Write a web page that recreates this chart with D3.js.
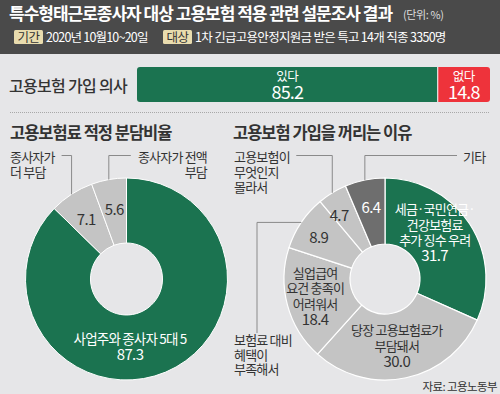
<!DOCTYPE html>
<html>
<head>
<meta charset="utf-8">
<script src="https://cdn.jsdelivr.net/npm/d3@7"></script>
<style>
  body { margin: 0; background: #e6e6e8; }
  svg { display: block; }
  text { font-family: "Noto Sans CJK KR", "Noto Sans", sans-serif; }
</style>
</head>
<body>
<div id="chart"></div>
<script>
// ---- data ----
var title = "특수형태근로종사자 대상 고용보험 적용 관련 설문조사 결과";
var unitText = "(단위: %)";
var periodTag = "기간";
var periodText = "2020년 10월10~20일";
var targetTag = "대상";
var targetText = "1차 긴급고용안정지원금 받은 특고 14개 직종 3350명";

var intentLabel = "고용보험 가입 의사";
var intentCats = ["있다", "없다"];
var intentVals = [85.2, 14.8];

var shareTitle = "고용보험료 적정 분담비율";
var shareCats = [["사업주와 종사자 5대 5"], ["종사자가", "더 부담"], ["종사자가 전액", "부담"]];
var shareVals = [87.3, 7.1, 5.6];

var reasonTitle = "고용보험 가입을 꺼리는 이유";
var reasonCats = [
    ["세금·국민연금·", "건강보험료", "추가 징수 우려"],
    ["당장 고용보험료가", "부담돼서"],
    ["실업급여", "요건 충족이", "어려워서"],
    ["보험료 대비", "혜택이", "부족해서"],
    ["고용보험이", "무엇인지", "몰라서"],
    ["기타"]
];
var reasonVals = [31.7, 30.0, 18.4, 8.9, 4.7, 6.4];
var sourceText = "자료: 고용노동부";

// ---- style ----
var W = 500, H = 394;
var GREEN = "#1b7350", RED = "#ee333b", GRAY = "#c4c4c4", DARK = "#6e6e6e";
var INK = "#333", LEAD = "#8a8a8a";

var svg = d3.select("#chart").append("svg").attr("width", W).attr("height", H);

svg.append("rect").attr("width", W).attr("height", H).attr("fill", "#e6e6e8");

// header
svg.append("rect").attr("width", W).attr("height", 54).attr("fill", "#4a4a4a");
svg.append("text").attr("x", 9).attr("y", 14).attr("dy", "0.36em")
    .attr("fill", "#fff").attr("font-size", 17).attr("font-weight", 700)
    .attr("letter-spacing", -1.0).text(title);
svg.append("text").attr("x", 403).attr("y", 15).attr("dy", "0.36em")
    .attr("fill", "#ddd").attr("font-size", 11).attr("letter-spacing", -0.4).text(unitText);

function tag(x, w, label) {
    svg.append("rect").attr("x", x).attr("y", 30).attr("width", w).attr("height", 14)
        .attr("rx", 1.5).attr("fill", "#e9dcae");
    svg.append("text").attr("x", x + w / 2).attr("y", 37).attr("dy", "0.36em")
        .attr("text-anchor", "middle").attr("fill", INK).attr("font-size", 12.5)
        .attr("letter-spacing", -0.6).text(label);
}
tag(14, 29, periodTag);
svg.append("text").attr("x", 46).attr("y", 37.5).attr("dy", "0.36em").attr("fill", "#fff")
    .attr("font-size", 12.5).attr("letter-spacing", -0.8).text(periodText);
tag(163, 29, targetTag);
svg.append("text").attr("x", 195).attr("y", 37.5).attr("dy", "0.36em").attr("fill", "#fff")
    .attr("font-size", 12.5).attr("letter-spacing", -0.7).text(targetText);

// ---- stacked bar: 가입 의사 ----
svg.append("text").attr("x", 9).attr("y", 86.5).attr("dy", "0.36em").attr("fill", INK)
    .attr("font-size", 16).attr("font-weight", 500).attr("letter-spacing", -0.7).text(intentLabel);

var bx = d3.scaleLinear().domain([0, 100]).range([137, 490]);
var barY = 67, barH = 35;
var stack = [];
var acc = 0;
intentVals.forEach(function (v, i) {
    stack.push({ cat: intentCats[i], v: v, x0: acc, x1: acc + v });
    acc += v;
});
svg.append("clipPath").attr("id", "barclip").append("rect")
    .attr("x", bx(0)).attr("y", barY).attr("width", bx(100) - bx(0)).attr("height", barH).attr("rx", 3);
var bar = svg.append("g").attr("clip-path", "url(#barclip)");
bar.selectAll("rect").data(stack).enter().append("rect")
    .attr("x", function (d) { return bx(d.x0); })
    .attr("y", barY)
    .attr("width", function (d) { return bx(d.x1) - bx(d.x0); })
    .attr("height", barH)
    .attr("fill", function (d, i) { return i == 0 ? GREEN : RED; });
bar.append("line").attr("x1", bx(intentVals[0])).attr("x2", bx(intentVals[0]))
    .attr("y1", barY).attr("y2", barY + barH).attr("stroke", "#fff").attr("stroke-width", 1);
var bl = svg.selectAll(".barlab").data(stack).enter().append("g").attr("class", "barlab");
bl.append("text").attr("x", function (d) { return (bx(d.x0) + bx(d.x1)) / 2; })
    .attr("y", 76.5).attr("dy", "0.36em").attr("text-anchor", "middle").attr("fill", "#fff")
    .attr("font-size", 12.5).attr("letter-spacing", -0.5).text(function (d) { return d.cat; });
bl.append("text").attr("x", function (d) { return (bx(d.x0) + bx(d.x1)) / 2; })
    .attr("y", 93).attr("dy", "0.36em").attr("text-anchor", "middle").attr("fill", "#fff")
    .attr("font-size", 18).attr("letter-spacing", -0.8).text(function (d) { return d.v.toFixed(1); });

svg.append("line").attr("x1", 10).attr("x2", 490).attr("y1", 112.5).attr("y2", 112.5)
    .attr("stroke", "#a8a8a8").attr("stroke-dasharray", "1,1");

// ---- helpers ----
function polar(cx, cy, a, r) { return [cx + r * Math.sin(a), cy - r * Math.cos(a)]; }
function rad(deg) { return deg * Math.PI / 180; }
function multiline(g, x, y, lines, anchor, fill, size, gap, lastSize) {
    var n = lines.length;
    lines.forEach(function (s, i) {
        var big = lastSize && i == n - 1;
        g.append("text").attr("x", x).attr("y", y + (i - (n - 1) / 2) * gap).attr("dy", "0.36em")
            .attr("text-anchor", anchor).attr("fill", fill)
            .attr("font-size", big ? lastSize : size)
            .attr("letter-spacing", big ? -0.6 : -0.8).text(s);
    });
}
var pie = d3.pie().sort(null).value(function (d) { return d; });
function mid(d) { return (d.startAngle + d.endAngle) / 2; }
var lineY = 155.5;

// ---- donut 1: 분담비율 ----
svg.append("text").attr("x", 10).attr("y", 133).attr("dy", "0.36em").attr("fill", INK)
    .attr("font-size", 16.5).attr("font-weight", 700).attr("letter-spacing", -1).text(shareTitle);

var c1 = { x: 126.5, y: 279 }, r1in = 36, r1out = 101;
var arc1 = d3.arc().innerRadius(r1in).outerRadius(r1out);
var g1 = svg.append("g");
var arcs1 = pie(shareVals);
g1.selectAll("path").data(arcs1).enter().append("path")
    .attr("transform", "translate(" + c1.x + "," + c1.y + ")")
    .attr("d", arc1)
    .attr("fill", function (d, i) { return i == 0 ? GREEN : GRAY; })
    .attr("stroke", "#fff").attr("stroke-width", 1);

// inside labels (angle deg, radius)
var shareLabelPos = [[177, 68], [326, 72], [350, 70]];
arcs1.forEach(function (d, i) {
    var p = polar(c1.x, c1.y, rad(shareLabelPos[i][0]), shareLabelPos[i][1]);
    if (i == 0) {
        multiline(g1, p[0], p[1], shareCats[0].concat([d.value.toFixed(1)]), "middle", "#fff", 13.5, 15, 15);
    } else {
        g1.append("text").attr("x", p[0]).attr("y", p[1]).attr("dy", "0.36em").attr("text-anchor", "middle")
            .attr("fill", INK).attr("font-size", 15).attr("letter-spacing", -0.6).text(d.value.toFixed(1));
    }
});
(function () {
    var a = arcs1[1], p = polar(c1.x, c1.y, mid(a), r1out);
    g1.append("polyline").attr("points", [[p[0], p[1]], [p[0], lineY], [p[0] - 10, lineY]].join(" "))
        .attr("fill", "none").attr("stroke", LEAD);
    multiline(g1, 10, 164.5, shareCats[1], "start", INK, 13, 15);
    var b = arcs1[2], q = polar(c1.x, c1.y, mid(b), r1out);
    g1.append("polyline").attr("points", [[q[0], q[1]], [q[0], lineY], [q[0] + 22, lineY]].join(" "))
        .attr("fill", "none").attr("stroke", LEAD);
    multiline(g1, 207, 164.5, shareCats[2], "end", INK, 13, 15);
})();

// ---- donut 2: 꺼리는 이유 ----
svg.append("text").attr("x", 233).attr("y", 133).attr("dy", "0.36em").attr("fill", INK)
    .attr("font-size", 16.5).attr("font-weight", 700).attr("letter-spacing", -1).text(reasonTitle);

var c2 = { x: 385, y: 279 }, r2in = 35, r2out = 101;
var arc2 = d3.arc().innerRadius(r2in).outerRadius(r2out);
var g2 = svg.append("g");
var arcs2 = pie(reasonVals);
var reasonFill = [GREEN, GRAY, GRAY, GRAY, GRAY, DARK];
g2.selectAll("path").data(arcs2).enter().append("path")
    .attr("transform", "translate(" + c2.x + "," + c2.y + ")")
    .attr("d", arc2)
    .attr("fill", function (d, i) { return reasonFill[i]; })
    .attr("stroke", "#fff").attr("stroke-width", 1.2);

var reasonLabelPos = [[47, 68], [170, 68], [256, 72], [302, 78], [324, 78], [349, 73]];
var inside = [true, true, true, false, false, false];
arcs2.forEach(function (d, i) {
    var p = polar(c2.x, c2.y, rad(reasonLabelPos[i][0]), reasonLabelPos[i][1]);
    var fill = (i == 0 || i == 5) ? "#fff" : INK;
    if (inside[i]) {
        multiline(g2, p[0], p[1], reasonCats[i].concat([d.value.toFixed(1)]), "middle", fill, 13, 15.5, 15);
    } else {
        g2.append("text").attr("x", p[0]).attr("y", p[1]).attr("dy", "0.36em").attr("text-anchor", "middle")
            .attr("fill", fill).attr("font-size", 15).attr("letter-spacing", -0.6).text(d.value.toFixed(1));
    }
});
(function () {
    // 보험료 대비 혜택이 부족해서
    var a = arcs2[3], p = polar(c2.x, c2.y, mid(a), r2out);
    g2.append("polyline").attr("points", [[p[0], p[1]], [257, p[1]], [257, 333]].join(" "))
        .attr("fill", "none").attr("stroke", LEAD);
    multiline(g2, 234, 355, reasonCats[3], "start", INK, 13, 14.5);
    // 고용보험이 무엇인지 몰라서
    var b = arcs2[4], q = polar(c2.x, c2.y, mid(b), r2out);
    g2.append("polyline").attr("points", [[q[0], q[1]], [q[0], lineY], [q[0] - 36, lineY]].join(" "))
        .attr("fill", "none").attr("stroke", LEAD);
    multiline(g2, 234, 172, reasonCats[4], "start", INK, 13, 15);
    // 기타
    var c = arcs2[5], s = polar(c2.x, c2.y, mid(c), r2out);
    g2.append("polyline").attr("points", [[s[0], s[1]], [s[0], lineY], [457, lineY]].join(" "))
        .attr("fill", "none").attr("stroke", LEAD);
    multiline(g2, 463, 157, reasonCats[5], "start", INK, 13, 15);
})();

svg.append("text").attr("x", 497).attr("y", 386.5).attr("dy", "0.36em").attr("text-anchor", "end")
    .attr("fill", INK).attr("font-size", 11.5).attr("letter-spacing", -0.6).text(sourceText);
</script>
</body>
</html>
